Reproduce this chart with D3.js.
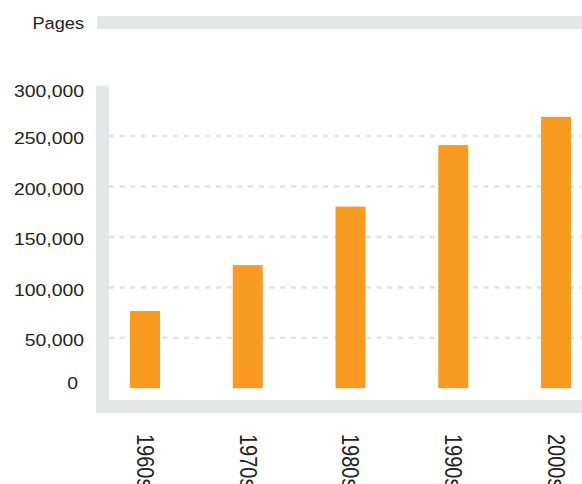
<!DOCTYPE html>
<html>
<head>
<meta charset="utf-8">
<script src="https://cdn.jsdelivr.net/npm/d3@7/dist/d3.min.js"></script>
<style>
  html, body { margin: 0; padding: 0; background: #fff; }
  svg { display: block; }
  text { font-family: "Liberation Sans", Arial, Helvetica, sans-serif; fill: #222; }
</style>
</head>
<body>
<svg id="chart" width="582" height="484"></svg>
<script>
// Pages published per decade
const decades = ["1960s", "1970s", "1980s", "1990s", "2000s"];
const pages = [76500, 122000, 180000, 241000, 269000];
const yTicks = [0, 50000, 100000, 150000, 200000, 250000, 300000];
const gridTicks = [50000, 100000, 150000, 200000, 250000];
const yTitle = "Pages";

const W = 582, H = 484;
const frameColor = "#e5e6e8";
const barColor = "#f99b20";
const stretch = 1.14;          // wide set type
const barWidth = 30;

const svg = d3.select("#chart");

const y = d3.scaleLinear().domain([0, 300000]).range([388.2, 85.6]);
const x = d3.scalePoint().domain(decades).range([145, 556]);

// header rule beside the axis title
svg.append("rect")
  .attr("x", 97).attr("y", 16).attr("width", W - 97).attr("height", 13)
  .attr("fill", frameColor);

svg.append("text")
  .attr("transform", `translate(84,29) scale(1.07,1)`)
  .attr("text-anchor", "end")
  .attr("font-size", 17)
  .text(yTitle);

// L-shaped frame around the plot
svg.append("rect")
  .attr("x", 96).attr("y", y(300000)).attr("width", 13).attr("height", 413 - y(300000))
  .attr("fill", frameColor);
svg.append("rect")
  .attr("x", 96).attr("y", 400).attr("width", W - 96).attr("height", 13)
  .attr("fill", frameColor);

// dashed gridlines
svg.append("g")
  .selectAll("line")
  .data(gridTicks)
  .join("line")
  .attr("x1", 109).attr("x2", W)
  .attr("y1", d => y(d)).attr("y2", d => y(d))
  .attr("stroke", "#e4e4e4")
  .attr("stroke-width", 2.6)
  .attr("stroke-dasharray", "5,5.7");

// y tick labels, kept inside the frame's vertical extent
const fmt = d3.format(",");
svg.append("g")
  .selectAll("text")
  .data(yTicks)
  .join("text")
  .attr("transform", d => {
    const ty = Math.max(91, Math.min(383, y(d) + 2.5));
    const tx = d === 0 ? 78 : 84;
    return `translate(${tx},${ty}) scale(${stretch},1)`;
  })
  .attr("dy", "0.35em")
  .attr("text-anchor", "end")
  .attr("font-size", 17)
  .text(d => fmt(d));

// bars
svg.append("g")
  .selectAll("rect")
  .data(decades.map((d, i) => ({ decade: d, value: pages[i] })))
  .join("rect")
  .attr("x", d => x(d.decade) - barWidth / 2)
  .attr("y", d => y(d.value))
  .attr("width", barWidth)
  .attr("height", d => y(0) - y(d.value))
  .attr("fill", barColor);

// rotated category labels
svg.append("g")
  .selectAll("text")
  .data(decades)
  .join("text")
  .attr("transform", d => `translate(${x(d)},434) scale(1.16,1) rotate(90)`)
  .attr("dy", "0.35em")
  .attr("text-anchor", "start")
  .attr("font-size", 20)
  .text(d => d);
</script>
</body>
</html>
